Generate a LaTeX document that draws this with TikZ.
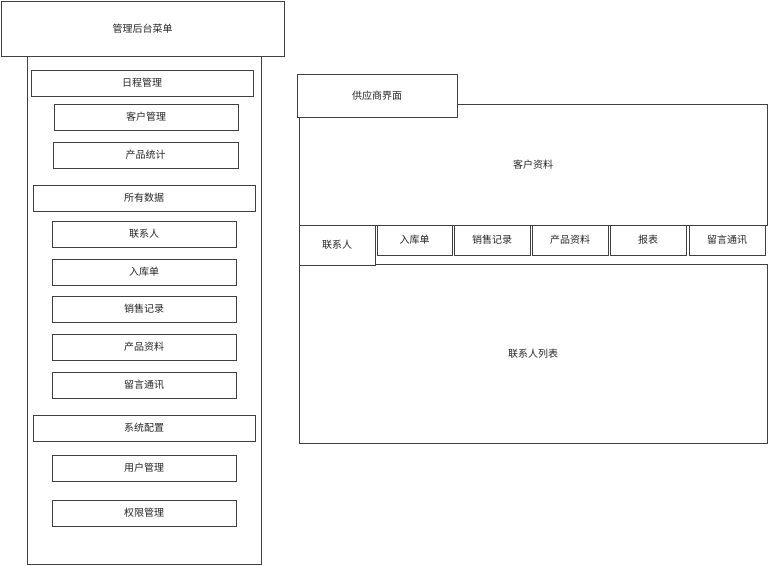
\documentclass[tikz,border=0pt]{standalone}
\usepackage{fontspec}
\newfontfamily\cjk{Noto Sans CJK SC}

\begin{document}
\begin{tikzpicture}[x=1pt,y=-1pt,
        box/.style={draw=black!75,line width=0.8pt,fill=white,inner sep=0pt,outer sep=0pt,
                    anchor=north west,text=black!85,font=\cjk\fontsize{10}{12}\selectfont}]

            \useasboundingbox (0,0) rectangle (768,565);

            % left menu
            \node (column) [box,minimum width=234pt,minimum height=508pt] at (27,56) {};
            \node (menu) [box,minimum width=283pt,minimum height=55pt] at (1,1) {管理后台菜单};

            \node (schedule) [box,minimum width=222pt,minimum height=26pt] at (31,70) {日程管理};
            \node (customers) [box,minimum width=184pt,minimum height=26pt] at (54,104) {客户管理};
            \node (stats) [box,minimum width=185pt,minimum height=26pt] at (53,142) {产品统计};

            \node (alldata) [box,minimum width=222pt,minimum height=26pt] at (33,185) {所有数据};
            \node (contacts) [box,minimum width=184pt,minimum height=26pt] at (52,221) {联系人};
            \node (stockin) [box,minimum width=184pt,minimum height=26pt] at (52,259) {入库单};
            \node (sales) [box,minimum width=184pt,minimum height=26pt] at (52,296) {销售记录};
            \node (products) [box,minimum width=184pt,minimum height=26pt] at (52,334) {产品资料};
            \node (messages) [box,minimum width=184pt,minimum height=26pt] at (52,372) {留言通讯};

            \node (config) [box,minimum width=222pt,minimum height=26pt] at (33,415) {系统配置};
            \node (users) [box,minimum width=184pt,minimum height=26pt] at (52,455) {用户管理};
            \node (rights) [box,minimum width=184pt,minimum height=26pt] at (52,500) {权限管理};

            % supplier page
            \node (profile) [box,minimum width=468pt,minimum height=121pt] at (299,104) {客户资料};
            \node (supplier) [box,minimum width=160pt,minimum height=43pt] at (297,74) {供应商界面};

            \node (list) [box,minimum width=468pt,minimum height=179pt] at (299,264) {联系人列表};
            \node (tabcontacts) [box,minimum width=76pt,minimum height=40pt] at (299,225) {联系人};
            \node (tabstock) [box,minimum width=75pt,minimum height=30pt] at (377,225) {入库单};
            \node (tabsales) [box,minimum width=76pt,minimum height=30pt] at (454,225) {销售记录};
            \node (tabproducts) [box,minimum width=76pt,minimum height=30pt] at (532,225) {产品资料};
            \node (tabreport) [box,minimum width=76pt,minimum height=30pt] at (610,225) {报表};
            \node (tabmessages) [box,minimum width=76pt,minimum height=30pt] at (689,225) {留言通讯};

        \end{tikzpicture}
\end{document}
